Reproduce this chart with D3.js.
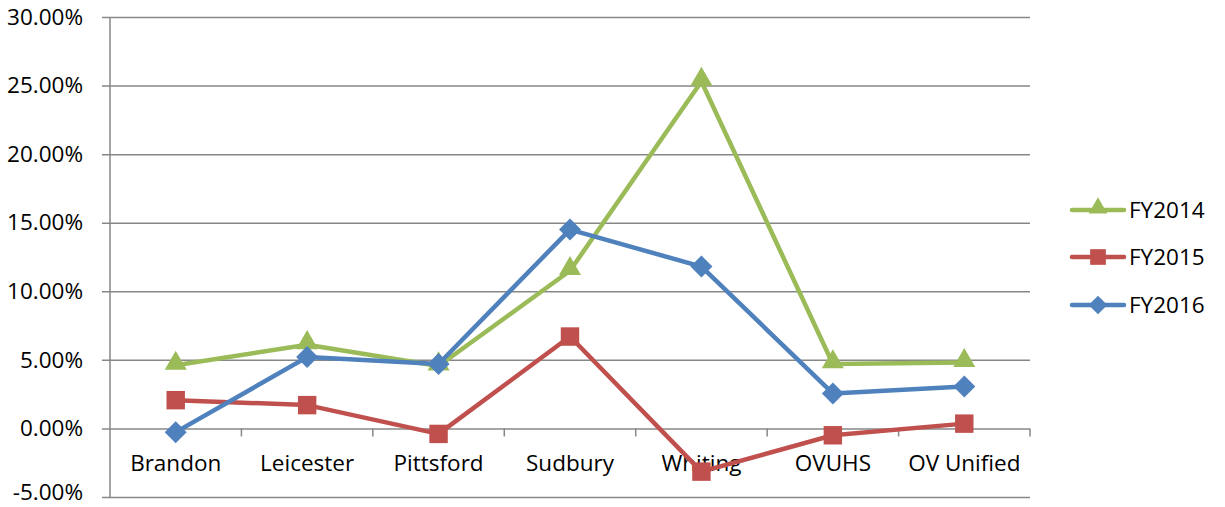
<!DOCTYPE html>
<html>
<head>
<meta charset="utf-8">
<script src="https://cdn.jsdelivr.net/npm/d3@7"></script>
<style>
  body { margin: 0; background: #fff; }
  text { font-family: 'Open Sans', sans-serif; fill: #000; }
</style>
</head>
<body>
<div id="chart"></div>
<script>
const categories = ['Brandon', 'Leicester', 'Pittsford', 'Sudbury', 'Whiting', 'OVUHS', 'OV Unified']
const fy2014 = [4.6, 6.1, 4.55, 11.5, 25.3, 4.7, 4.8]
const fy2015 = [2.06, 1.7, -0.4, 6.7, -3.15, -0.5, 0.35]
const fy2016 = [-0.27, 5.2, 4.7, 14.5, 11.8, 2.55, 3.05]
const seriesNames = ['FY2014', 'FY2015', 'FY2016']
const yTicks = [-5, 0, 5, 10, 15, 20, 25, 30]

const series = [
  { name: seriesNames[0], values: fy2014, color: '#9BBB59', marker: 'triangle' },
  { name: seriesNames[1], values: fy2015, color: '#C0504D', marker: 'square' },
  { name: seriesNames[2], values: fy2016, color: '#4F81BD', marker: 'diamond' }
]

const width = 1225
const height = 507
const plot = { left: 110, right: 1030, top: 17, bottom: 497 }
const fontSize = 22.5

const svg = d3.select('#chart')
  .append('svg')
  .attr('width', width)
  .attr('height', height)

const x = d3.scaleBand()
  .domain(categories)
  .range([plot.left, plot.right])

const y = d3.scaleLinear()
  .domain([-5, 30])
  .range([plot.bottom, plot.top])

// gridlines (with the small left ticks)
svg.append('g')
  .attr('transform', `translate(${plot.right},0)`)
  .call(d3.axisLeft(y).tickValues(yTicks).tickSize(plot.right - plot.left + 8).tickFormat(''))
  .call(g => g.select('.domain').remove())
  .call(g => g.selectAll('line').attr('stroke', '#878787').attr('stroke-width', 1.5))

// y labels
svg.append('g')
  .attr('transform', `translate(${plot.left},0)`)
  .call(d3.axisLeft(y).tickValues(yTicks).tickSize(0).tickPadding(27).tickFormat(d => d.toFixed(2) + '%'))
  .call(g => g.select('.domain').remove())
  .call(g => g.selectAll('text')
    .attr('font-size', fontSize)
    .style('font-family', "'Open Sans', sans-serif")
    .attr('dy', d => d === -5 ? '0.1em' : '0.32em'))

// vertical axis line
svg.append('line')
  .attr('x1', plot.left).attr('x2', plot.left)
  .attr('y1', plot.top).attr('y2', plot.bottom)
  .attr('stroke', '#878787').attr('stroke-width', 1.5)

// x axis ticks at 0
const boundaries = categories.map((c, i) => plot.left + i * x.bandwidth()).concat([plot.right])
svg.append('g')
  .selectAll('line')
  .data(boundaries.slice(1))
  .enter()
  .append('line')
  .attr('x1', d => d).attr('x2', d => d)
  .attr('y1', y(0)).attr('y2', y(0) + 8)
  .attr('stroke', '#878787').attr('stroke-width', 1.5)

svg.append('g')
  .selectAll('text')
  .data(categories)
  .enter()
  .append('text')
  .attr('x', d => x(d) + x.bandwidth() / 2)
  .attr('y', y(0) + 43)
  .attr('text-anchor', 'middle')
  .attr('font-size', fontSize)
  .text(d => d)

const markerPath = {
  triangle: d3.symbol().type(d3.symbolTriangle).size(210)(),
  square: d3.symbol().type(d3.symbolSquare).size(340)(),
  diamond: 'M0,-11L11,0L0,11L-11,0Z'
}
const markerShift = { triangle: -2, square: 0, diamond: 0 }

const line = d3.line()
  .x((d, i) => x(categories[i]) + x.bandwidth() / 2)
  .y(d => y(d))

series.forEach(s => {
  svg.append('path')
    .datum(s.values)
    .attr('d', line)
    .attr('fill', 'none')
    .attr('stroke', s.color)
    .attr('stroke-width', 4.5)
    .attr('stroke-linejoin', 'round')

  svg.append('g')
    .selectAll('path')
    .data(s.values)
    .enter()
    .append('path')
    .attr('d', markerPath[s.marker])
    .attr('transform', (d, i) => `translate(${x(categories[i]) + x.bandwidth() / 2},${y(d) + markerShift[s.marker]})`)
    .attr('fill', s.color)
})

// legend
const legend = svg.append('g')
const legendY = [210, 257, 305]
series.forEach((s, i) => {
  const g = legend.append('g').attr('transform', `translate(0,${legendY[i]})`)
  g.append('line')
    .attr('x1', 1072).attr('x2', 1124)
    .attr('stroke', s.color).attr('stroke-width', 4.5).attr('stroke-linecap', 'round')
  g.append('path')
    .attr('d', markerPath[s.marker])
    .attr('transform', `translate(1098,${markerShift[s.marker]}) scale(0.85)`)
    .attr('fill', s.color)
  g.append('text')
    .attr('x', 1129).attr('y', 8)
    .attr('font-size', fontSize)
    .text(s.name)
})
</script>
</body>
</html>
